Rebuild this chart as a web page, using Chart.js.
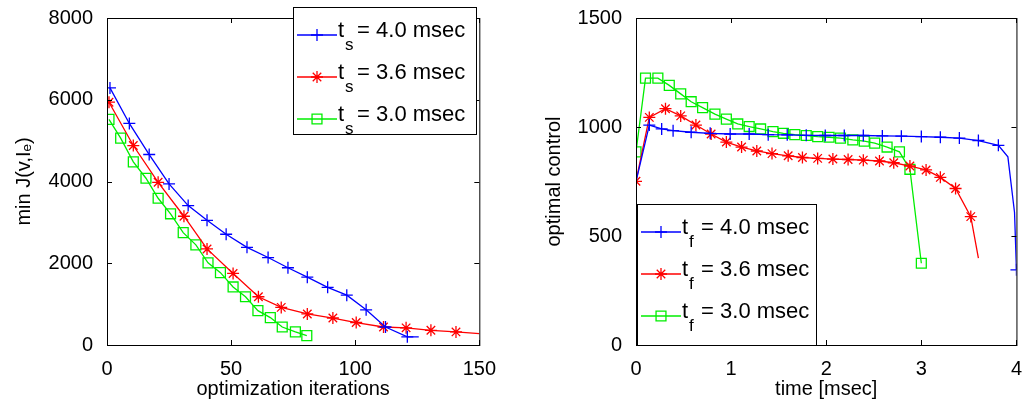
<!DOCTYPE html>
<html><head>
<script src="https://cdn.jsdelivr.net/npm/chart.js@4/dist/chart.umd.min.js"></script>
<style>
body{margin:0;background:#fff;width:1026px;height:405px;overflow:hidden;position:relative}
#a{position:absolute;left:0;top:0;width:500px;height:405px}
#b{position:absolute;left:530px;top:0;width:496px;height:405px}
</style>
</head><body>
<div id="a"><canvas id="c1"></canvas></div>
<div id="b"><canvas id="c2"></canvas></div>
<script>
// left panel: cost vs iterations
var iterBlue = [1.2,9,17,25,32.7,40.3,48,56.4,64.9,72.9,80.7,88.9,96.6,104.4,112.2,121,125.6];
var costBlue = [6290,5420,4660,3940,3410,3050,2710,2390,2140,1890,1660,1410,1220,860,440,200,200];
var iterRed = [0.8,10.6,20.6,31,40.3,50.8,61,70.2,80.7,91,100.4,111.4,120.5,130.5,140.6,150];
var costRed = [5940,4880,3980,3150,2350,1750,1180,920,760,660,550,440,420,360,320,280];
var iterGreen = [0.8,5.5,10.6,15.7,20.6,25.6,30.7,35.8,40.7,45.7,50.8,55.8,60.8,65.8,70.6,75.9,80.5];
var costGreen = [5520,5060,4480,4080,3590,3210,2750,2450,2010,1770,1420,1180,840,670,440,320,230];

// right panel: optimal control vs time
var tBlue = [0,0.14,0.27,0.39,0.58,0.78,0.99,1.19,1.39,1.59,1.79,1.99,2.19,2.39,2.59,2.79,3.0,3.2,3.4,3.6,3.81,3.91,3.98,4.0];
var uBlue = [750,1009,991,983,976,971,968,968,965,964,962,961,961,961,959,958,956,953,949,938,916,863,608,345];
var tRed = [0,0.14,0.31,0.47,0.63,0.79,0.95,1.11,1.27,1.43,1.6,1.75,1.91,2.07,2.23,2.39,2.56,2.71,2.88,3.05,3.2,3.36,3.52,3.6];
var uRed = [751,1044,1084,1051,1009,968,931,908,890,878,868,860,856,853,851,848,844,836,821,803,769,718,589,398];
var tGreen = [0,0.1,0.23,0.35,0.47,0.58,0.7,0.83,0.95,1.07,1.19,1.31,1.44,1.55,1.67,1.79,1.91,2.03,2.15,2.28,2.4,2.51,2.64,2.77,2.88,3.0];
var uGreen = [886,1224,1224,1191,1152,1116,1089,1059,1036,1014,1002,991,979,971,965,961,956,953,949,941,935,926,908,886,806,375];

var legLeft = [['s','4.0'],['s','3.6'],['s','3.0']];
var legRight = [['f','4.0'],['f','3.6'],['f','3.0']];

var FONT = 'Liberation Sans';
var cols = ['#0000ff','#ff0000','#00ee00'];
var shapes = ['cross','star','rect'];
var sizes = [6,6,7];

function pts(xs, ys){ return xs.map(function(x,i){ return {x:x,y:ys[i]}; }); }
function ds(xs, ys, k, hide){
    var r = xs.map(function(x,i){ return hide.indexOf(i) >= 0 ? 0 : sizes[k]; });
    return {data:pts(xs,ys), borderColor:cols[k], borderWidth:1.3, pointStyle:shapes[k],
        pointRadius:r, pointBorderColor:cols[k], pointBackgroundColor:'rgba(0,0,0,0)',
        pointBorderWidth:1.3, tension:0, fill:false};
}

// box, inward ticks and legend
var framePlugin = {
    id:'frame',
    afterDraw:function(ch){
        var c = ch.ctx, a = ch.chartArea, o = ch.options.plugins.frame;
        c.save();
        c.strokeStyle = '#000'; c.lineWidth = 1;
        c.strokeRect(a.left+0.5, a.top+0.5, a.right-a.left, a.bottom-a.top);
        ch.scales.x.ticks.forEach(function(t){
            var px = Math.round(ch.scales.x.getPixelForValue(t.value))+0.5;
            c.beginPath(); c.moveTo(px,a.bottom); c.lineTo(px,a.bottom-5);
            c.moveTo(px,a.top); c.lineTo(px,a.top+5); c.stroke();
        });
        ch.scales.y.ticks.forEach(function(t){
            var py = Math.round(ch.scales.y.getPixelForValue(t.value))+0.5;
            c.beginPath(); c.moveTo(a.left,py); c.lineTo(a.left+5,py);
            c.moveTo(a.right,py); c.lineTo(a.right-5,py); c.stroke();
        });
        // legend
        var L = o.box;
        c.fillStyle = '#fff';
        c.fillRect(L.x, L.y, L.w, L.h);
        c.strokeRect(L.x+0.5, L.y+0.5, L.w, L.h);
        o.items.forEach(function(it,k){
            var y = L.y + 28 + k*42;
            c.strokeStyle = cols[k]; c.lineWidth = 1.3;
            c.beginPath(); c.moveTo(L.x+4,y); c.lineTo(L.x+44,y); c.stroke();
            c.fillStyle = 'rgba(0,0,0,0)';
            Chart.helpers.drawPoint(c, {pointStyle:shapes[k], radius:sizes[k], borderWidth:1.3}, L.x+24, y);
            c.fillStyle = '#000'; c.textBaseline = 'middle';
            c.font = '22px "'+FONT+'"';
            c.fillText('t', L.x+45, y-4);
            c.font = '17px "'+FONT+'"';
            c.fillText(it[0], L.x+52, y+10);
            c.font = '22px "'+FONT+'"';
            c.fillText(' = '+it[1]+' msec', L.x+58, y-4);
        });
        c.restore();
    }
};

function axes(xmin,xmax,xstep,ymin,ymax,ystep,ytitle,xtitle,yw){
    var tick = {color:'#000', font:{family:FONT,size:20}, callback:function(v){ return String(v); }};
    return {
        x:{type:'linear',min:xmin,max:xmax,grid:{display:false},border:{display:false},
           ticks:Object.assign({stepSize:xstep,maxRotation:0,padding:4},tick),
           title:{display:true,text:xtitle,color:'#000',font:{family:FONT,size:20},padding:{top:6}},
           afterFit:function(s){ s.height = 60; }},
        y:{min:ymin,max:ymax,grid:{display:false},border:{display:false},
           ticks:Object.assign({stepSize:ystep,padding:6},tick),
           title:{display:true,text:ytitle,color:'#000',font:{family:FONT,size:20},padding:{bottom:0}},
           afterFit:function(s){ s.width = yw; }}
    };
}

new Chart(document.getElementById('c1'), {
    type:'line',
    data:{datasets:[ds(iterBlue,costBlue,0,[16]),ds(iterRed,costRed,1,[15]),ds(iterGreen,costGreen,2,[])]},
    options:{responsive:true,maintainAspectRatio:false,animation:false,
        layout:{padding:{top:7,right:16,left:8}},
        scales:axes(0,150,50,0,8000,2000,'min J(v,I\u2091)','optimization iterations',99),
        plugins:{legend:{display:false},tooltip:{enabled:false},
            frame:{box:{x:293,y:7,w:183,h:127},items:legLeft}}},
    plugins:[framePlugin]
});

new Chart(document.getElementById('c2'), {
    type:'line',
    data:{datasets:[ds(tBlue,uBlue,0,[0,21,22]),ds(tRed,uRed,1,[23]),ds(tGreen,uGreen,2,[])]},
    options:{responsive:true,maintainAspectRatio:false,animation:false,
        layout:{padding:{top:7,right:6,left:8}},
        scales:axes(0,4,1,0,1500,500,'optimal control','time [msec]',98),
        plugins:{legend:{display:false},tooltip:{enabled:false},
            frame:{box:{x:107,y:204,w:179,h:141},items:legRight}}},
    plugins:[framePlugin]
});
</script>
</body></html>
